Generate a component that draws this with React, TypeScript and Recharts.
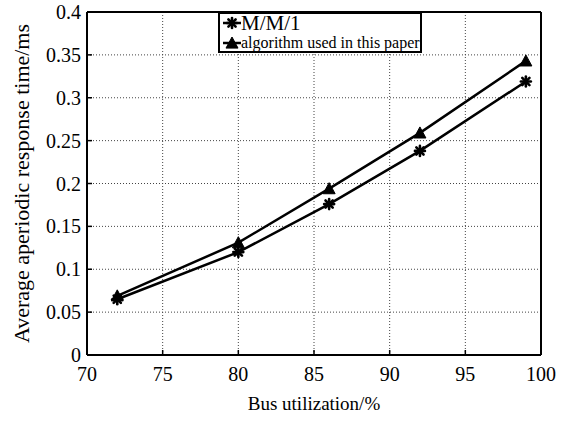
import React from 'react';
import {
  LineChart,
  Line,
  XAxis,
  YAxis,
  CartesianGrid,
  Legend,
} from 'recharts';

// bus utilization (%) on the x axis
const utilization = [72, 80, 86, 92, 99];
// average aperiodic response time (ms)
const mm1Times = [0.065, 0.12, 0.176, 0.238, 0.319];
const paperTimes = [0.069, 0.131, 0.194, 0.259, 0.343];

const xTicks = [70, 75, 80, 85, 90, 95, 100];
const yTicks = [0, 0.05, 0.1, 0.15, 0.2, 0.25, 0.3, 0.35, 0.4];

const seriesNames = ['M/M/1', 'algorithm used in this paper'];

const data = utilization.map((u, i) => ({
  u,
  mm1: mm1Times[i],
  paper: paperTimes[i],
}));

const FONT = '"Liberation Serif", "Times New Roman", serif';

const Triangle = ({ cx, cy, s = 6 }: { cx: number; cy: number; s?: number }) => (
  <path
    d={`M${cx},${cy - s} L${cx + s},${cy + s * 0.85} L${cx - s},${cy + s * 0.85} Z`}
    fill="#000"
    stroke="#000"
    strokeWidth={1}
  />
);

const Asterisk = ({ cx, cy, s = 5 }: { cx: number; cy: number; s?: number }) => {
  const d = s * 0.72;
  return (
    <g stroke="#000" strokeWidth={2.6} strokeLinecap="round">
      <line x1={cx} y1={cy - s} x2={cx} y2={cy + s} />
      <line x1={cx - s} y1={cy} x2={cx + s} y2={cy} />
      <line x1={cx - d} y1={cy - d} x2={cx + d} y2={cy + d} />
      <line x1={cx - d} y1={cy + d} x2={cx + d} y2={cy - d} />
    </g>
  );
};

const renderTriangle = (p: any) => <Triangle key={`t${p.index}`} cx={p.cx} cy={p.cy} />;
const renderAsterisk = (p: any) => <Asterisk key={`a${p.index}`} cx={p.cx} cy={p.cy} />;

const LegendBox = () => (
  <div
    style={{
      position: 'relative',
      width: 204,
      height: 41,
      border: '2px solid #000',
      boxSizing: 'border-box',
      background: '#fff',
      fontFamily: FONT,
      color: '#000',
    }}
  >
    <svg width={22} height={38} style={{ position: 'absolute', left: 0, top: 0 }}>
      <line x1={3} y1={9} x2={21} y2={9} stroke="#000" strokeWidth={2.5} />
      <Asterisk cx={12} cy={9} />
      <line x1={3} y1={29} x2={21} y2={29} stroke="#000" strokeWidth={2.5} />
      <Triangle cx={12} cy={29} />
    </svg>
    <div style={{ position: 'absolute', left: 21, top: -3, fontSize: 21, lineHeight: '24px', whiteSpace: 'nowrap' }}>
      {seriesNames[0]}
    </div>
    <div style={{ position: 'absolute', left: 21, top: 19, fontSize: 16, lineHeight: '20px', whiteSpace: 'nowrap' }}>
      {seriesNames[1]}
    </div>
  </div>
);

const YTitle = (props: any) => {
  const vb = props.viewBox;
  const x = vb.x + 5;
  const y = vb.y + vb.height / 2;
  return (
    <text
      x={x}
      y={y}
      transform={`rotate(-90 ${x} ${y})`}
      textAnchor="middle"
      dominantBaseline="central"
      fontFamily={FONT}
      fontSize={22}
      fill="#000"
    >
      Average aperiodic response time/ms
    </text>
  );
};

const XTitle = (props: any) => {
  const vb = props.viewBox;
  return (
    <text
      x={vb.x + vb.width / 2}
      y={vb.y + vb.height - 7}
      textAnchor="middle"
      fontFamily={FONT}
      fontSize={19}
      fill="#000"
    >
      Bus utilization/%
    </text>
  );
};

// custom tick text so the serif face is always used
const XTick = (p: any) => (
  <text x={p.x} y={p.y} dy={14} textAnchor="middle" fontFamily={FONT} fontSize={20} fill="#000">
    {p.payload.value}
  </text>
);

const YTick = (p: any) => (
  <text x={p.x} y={p.y} dy={7} textAnchor="end" fontFamily={FONT} fontSize={20} fill="#000">
    {p.payload.value}
  </text>
);

export default function App() {
  return (
    <div style={{ position: 'absolute', left: 0, top: 0, width: 575, height: 426, background: '#fff', fontFamily: FONT }}>
      <LineChart
        width={575}
        height={426}
        data={data}
        margin={{ top: 11, right: 33, bottom: 9, left: 16 }}
      >
        <CartesianGrid stroke="#444" strokeDasharray="1 2" strokeWidth={1} />
        <XAxis
          dataKey="u"
          type="number"
          domain={[70, 100]}
          ticks={xTicks}
          height={62}
          tickSize={-5}
          tickMargin={17}
          tick={XTick}
          axisLine={{ stroke: '#000', strokeWidth: 2 }}
          tickLine={{ stroke: '#000', strokeWidth: 1.5 }}
          interval={0}
          label={{ content: XTitle }}
        />
        <XAxis
          xAxisId="top"
          orientation="top"
          type="number"
          domain={[70, 100]}
          ticks={xTicks}
          height={1}
          tickSize={-5}
          tick={false}
          axisLine={{ stroke: '#000', strokeWidth: 2 }}
          tickLine={{ stroke: '#000', strokeWidth: 1.5 }}
        />
        <YAxis
          type="number"
          domain={[0, 0.4]}
          ticks={yTicks}
          width={71}
          tickSize={-5}
          tickMargin={11}
          tick={YTick}
          axisLine={{ stroke: '#000', strokeWidth: 2 }}
          tickLine={{ stroke: '#000', strokeWidth: 1.5 }}
          interval={0}
          label={{ content: YTitle }}
        />
        <YAxis
          yAxisId="right"
          orientation="right"
          type="number"
          domain={[0, 0.4]}
          ticks={yTicks}
          width={1}
          tickSize={-5}
          tick={false}
          axisLine={{ stroke: '#000', strokeWidth: 2 }}
          tickLine={{ stroke: '#000', strokeWidth: 1.5 }}
        />
        <Legend
          layout="horizontal"
          verticalAlign="middle"
          content={() => <LegendBox />}
          wrapperStyle={{ top: 12, left: 218, width: 204, height: 41 }}
        />
        <Line
          dataKey="mm1"
          name={seriesNames[0]}
          stroke="#000"
          strokeWidth={2.5}
          dot={renderAsterisk}
          activeDot={false}
          isAnimationActive={false}
        />
        <Line
          dataKey="paper"
          name={seriesNames[1]}
          stroke="#000"
          strokeWidth={2.5}
          dot={renderTriangle}
          activeDot={false}
          isAnimationActive={false}
        />
      </LineChart>
    </div>
  );
}
